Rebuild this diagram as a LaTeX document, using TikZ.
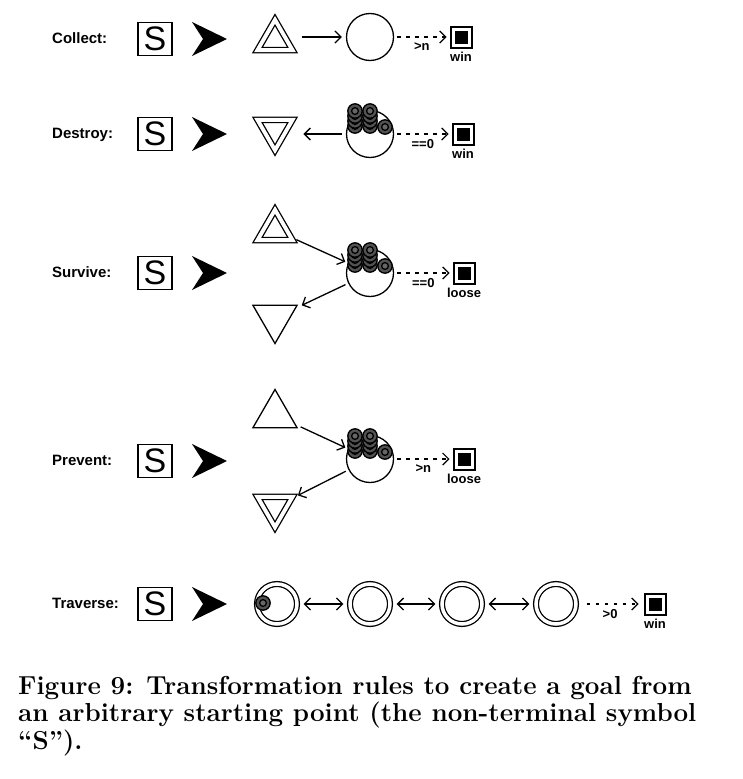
\documentclass[tikz,border=0pt]{standalone}
\usepackage{fontspec}
\setsansfont{Liberation Sans}
\usepackage{tikz}
\usetikzlibrary{positioning}
\usetikzlibrary{shapes.geometric}
\usetikzlibrary{arrows.meta}

\tikzset{
  rulename/.style={anchor=west, text height=11pt, text depth=3pt, inner sep=0pt,
    font=\sffamily\bfseries\fontsize{15}{18}\selectfont},
  sbox/.style={draw, line width=1.5pt, minimum width=34pt, minimum height=33pt,
    inner sep=0pt, font=\sffamily\fontsize{34}{34}\selectfont},
  tri/.style={draw, regular polygon, regular polygon sides=3, minimum size=51pt,
    inner sep=0pt, line width=1.3pt},
  dtri/.style={tri, double, double distance=3.9pt, minimum size=40.4pt},
  flip/.style={shape border rotate=180},
  pool/.style={draw, circle, minimum size=47pt, inner sep=0pt, line width=1.3pt},
  dpool/.style={pool, double, double distance=3.5pt, minimum size=40pt},
  goal/.style={draw, line width=2pt, inner sep=4pt},
  tag/.style={inner sep=1pt, font=\sffamily\bfseries\fontsize{13}{13}\selectfont},
  arr/.style={-{Straight Barb[length=6pt,width=12pt]}, line width=1.3pt},
  barbs/.style={{Straight Barb[length=6pt,width=12pt]}-{Straight Barb[length=6pt,width=12pt]}, line width=1.3pt},
  darr/.style={arr, line width=1.2pt, dash pattern=on 3.5pt off 5.5pt},
  token/.pic={
    \draw[fill=black!68, line width=1.3pt] (0,0) circle (7.2);
    \draw[fill=black!60, line width=1.3pt] (0,0) circle (3.4);
  }
}
\newcommand\coinstack[3]{\foreach \dy in {0,5,10,15} \pic at ([shift={(#2,#3+\dy)}]#1) {token};}

\begin{document}
\begin{tikzpicture}[x=1pt, y=1pt]
\useasboundingbox (0,0) rectangle (743,-779);

\foreach \name/\y in {Collect/39, Destroy/134, Survive/273, Prevent/461, Traverse/604} {
  \node[rulename] (l\name) at (52,-\y) {\name:};
  \node[sbox] (s\name) at (155,-\y) {S};
  \fill (192,-\y+17) -- (227,-\y) -- (192,-\y-17) -- (203,-\y) -- cycle;
}

\node[dtri] (t1) at (275,-40) {};
\node[pool] (c1) at (370,-37) {};
\node[goal] (g1) at (461,-37) {\rule{13pt}{13pt}};
\node[tag, below=2pt of g1] {win};
\draw[arr, shorten <=15pt, shorten >=4pt] (t1.east |- c1) -- (c1.west);
\draw[darr, shorten <=3pt, shorten >=3pt] (c1) -- (g1) node[tag, midway, below=4pt] {>n};

\node[dtri, flip] (t2) at (275,-130) {};
\node[pool] (c2) at (370,-134) {};
\node[goal] (g2) at (463,-134) {\rule{13pt}{13pt}};
\node[tag, below=2pt of g2] {win};
\draw[arr, shorten <=4pt, shorten >=16pt] (c2.west) -- (t2.east |- c2);
\draw[darr, shorten <=3pt, shorten >=3pt] (c2) -- (g2) node[tag, midway, below=4pt] {==0};
\coinstack{c2}{-15}{8}
\coinstack{c2}{0}{8}
\pic at ([shift={(15,7)}]c2) {token};

\node[dtri] (t3) at (275,-230) {};
\node[pool] (c3) at (370,-273) {};
\node[tri, flip] (t4) at (275,-318) {};
\node[goal] (g3) at (464,-273) {\rule{13pt}{13pt}};
\node[tag, below=2pt of g3] {loose};
\draw[arr, shorten <=5pt, shorten >=3pt] (t3) -- (c3);
\draw[arr, shorten <=3pt, shorten >=6pt] (c3) -- (t4);
\draw[darr, shorten <=3pt, shorten >=3pt] (c3) -- (g3) node[tag, midway, below=4pt] {==0};
\coinstack{c3}{-15}{8}
\coinstack{c3}{0}{8}
\pic at ([shift={(15,7)}]c3) {token};

\node[tri] (t5) at (275,-415) {};
\node[pool] (c4) at (370,-459) {};
\node[dtri, flip] (t6) at (275,-507) {};
\node[goal] (g4) at (464,-459) {\rule{13pt}{13pt}};
\node[tag, below=2pt of g4] {loose};
\draw[arr, shorten <=5pt, shorten >=3pt] (t5) -- (c4);
\draw[arr, shorten <=3pt, shorten >=6pt] (c4) -- (t6);
\draw[darr, shorten <=3pt, shorten >=3pt] (c4) -- (g4) node[tag, midway, below=4pt] {>n};
\coinstack{c4}{-15}{8}
\coinstack{c4}{0}{8}
\pic at ([shift={(15,7)}]c4) {token};

\node[dpool] (p1) at (277,-604) {};
\node[dpool] (p2) at (370,-604) {};
\node[dpool] (p3) at (462,-604) {};
\node[dpool] (p4) at (556,-604) {};
\node[goal] (g5) at (655,-604) {\rule{13pt}{13pt}};
\node[tag, below=2pt of g5] {win};
\pic at ([shift={(-14,1)}]p1) {token};
\draw[barbs, shorten <=6pt, shorten >=6pt] (p1) -- (p2);
\draw[barbs, shorten <=6pt, shorten >=6pt] (p2) -- (p3);
\draw[barbs, shorten <=6pt, shorten >=6pt] (p3) -- (p4);
\draw[darr, shorten <=10pt, shorten >=5pt] (p4) -- (g5) node[tag, midway, below=4pt] {>0};

\node[anchor=north west, align=left, inner sep=0pt,
  font=\bfseries\fontsize{26}{27.5}\selectfont] (cap) at (18,-676)
  {Figure 9: Transformation rules to create a goal from\\
   an arbitrary starting point (the non-terminal symbol\\
   ``S'').};
\end{tikzpicture}
\end{document}
